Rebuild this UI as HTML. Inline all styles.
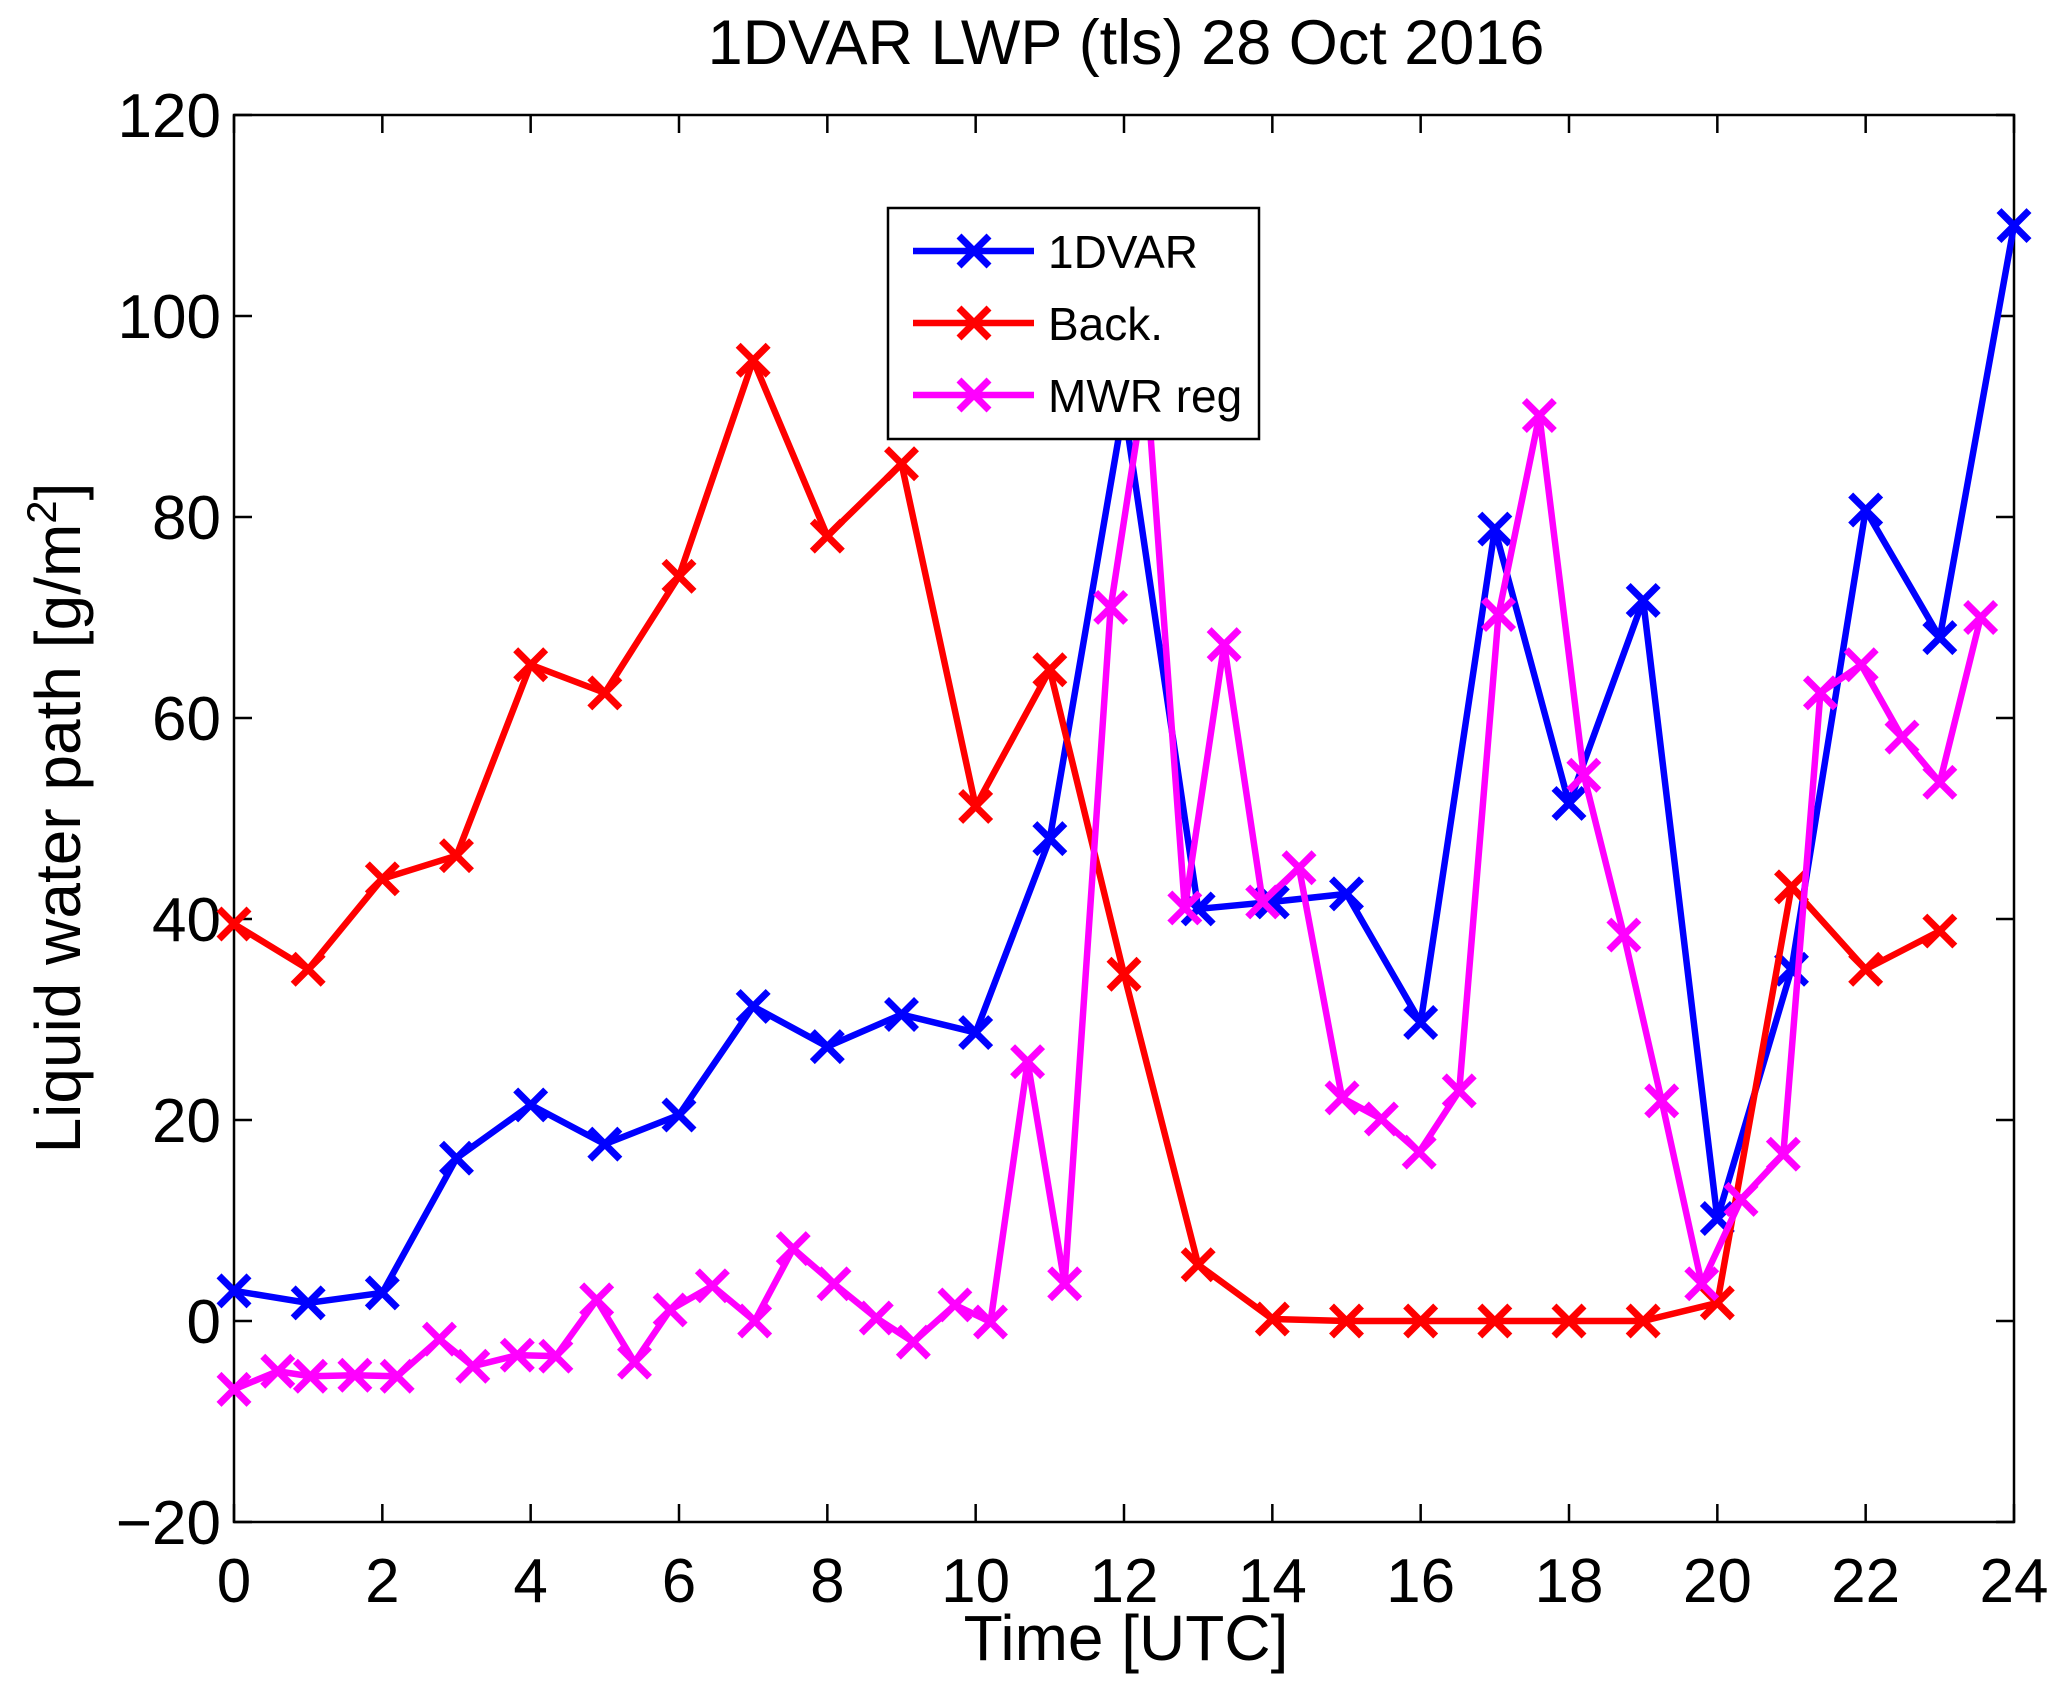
<!DOCTYPE html>
<html><head><meta charset="utf-8"><style>
html,body{margin:0;padding:0;background:#fff;}
svg{display:block;font-family:"Liberation Sans",sans-serif;}
</style></head><body>
<svg id="chart" width="2067" height="1686" viewBox="0 0 2067 1686" xmlns="http://www.w3.org/2000/svg">
<rect width="2067" height="1686" fill="#fff"/>
<text x="1126" y="64" font-size="63" text-anchor="middle">1DVAR LWP (tls) 28  Oct  2016</text>
<g id="plot"></g>
<text x="1126" y="1660" font-size="64" text-anchor="middle">Time [UTC]</text>
<text transform="translate(80,818) rotate(-90)" font-size="64" text-anchor="middle">Liquid water path [g/m<tspan font-size="42" dy="-24">2</tspan><tspan dy="24">]</tspan></text>
</svg>
<script>
const xTicks = [0,2,4,6,8,10,12,14,16,18,20,22,24];
const yTicks = [-20,0,20,40,60,80,100,120];
const hoursVar = [0,1,2,3,4,5,6,7,8,9,10,11,12,13,14,15,16,17,18,19,20,21,22,23,24];
const lwpVar = [3,1.8,2.8,16.2,21.5,17.6,20.5,31.3,27.3,30.5,28.7,48,91,41,41.7,42.5,29.7,78.8,51.5,71.7,10.2,35,80.7,68,109];
const hoursBack = [0,1,2,3,4,5,6,7,8,9,10,11,12,13,14,15,16,17,18,19,20,21,22,23];
const lwpBack = [39.5,35,44,46.3,65.3,62.5,74.1,95.6,78.1,85.3,51.2,64.8,34.5,5.6,0.2,0,0,0,0,0,1.8,43.2,35,38.8];
const hoursMwr = [0,0.59,1.03,1.63,2.2,2.77,3.22,3.82,4.34,4.89,5.4,5.88,6.45,7.02,7.54,8.09,8.66,9.16,9.72,10.2,10.7,11.2,11.82,12.3,12.82,13.35,13.87,14.36,14.94,15.47,15.98,16.52,17.05,17.6,18.2,18.74,19.25,19.79,20.32,20.89,21.39,21.94,22.49,23.0,23.55];
const lwpMwr = [-6.8,-5,-5.5,-5.4,-5.5,-1.8,-4.5,-3.4,-3.5,2.1,-4.1,1.1,3.5,0,7.2,3.7,0.3,-2.1,1.6,-0.1,25.8,3.7,71,94,41.1,67.3,41.7,45.1,22.2,20.1,16.8,22.9,70.3,90.1,54.3,38.4,21.9,3.7,12.1,16.6,62.5,65.3,58.1,53.6,70];

const L=234,R=2014,T=115,B=1522;
const xs=h=>L+(h-0)/24*(R-L);
const ys=v=>B-(v+20)/140*(B-T);
const NS='http://www.w3.org/2000/svg';
const plot=document.getElementById('plot');
function mk(tag,attrs,parent){const e=document.createElementNS(NS,tag);for(const k in attrs)e.setAttribute(k,attrs[k]);(parent||plot).appendChild(e);return e;}

xTicks.forEach(t=>{
  const x=xs(t);
  const g=mk('g',{});
  
  
  mk('line',{x1:x,y1:B,x2:x,y2:B-18,stroke:'#000','stroke-width':2.5},g);
  mk('line',{x1:x,y1:T,x2:x,y2:T+18,stroke:'#000','stroke-width':2.5},g);
  const tx=mk('text',{x:x,y:B+80,'font-size':62,'text-anchor':'middle'},g);
  tx.textContent=t;
});
yTicks.forEach(t=>{
  const y=ys(t);
  const g=mk('g',{});
  
  
  mk('line',{x1:L,y1:y,x2:L+18,y2:y,stroke:'#000','stroke-width':2.5},g);
  mk('line',{x1:R,y1:y,x2:R-18,y2:y,stroke:'#000','stroke-width':2.5},g);
  const tx=mk('text',{x:L-13,y:y+22,'font-size':62,'text-anchor':'end'},g);
  tx.textContent=(t<0?'\u2212'+(-t):t);
});
const frame=mk('rect',{x:L,y:T,width:R-L,height:B-T,fill:'none',stroke:'#000','stroke-width':2.5});



function marker(g,x,y,c){
  const s=15;
  mk('path',{d:`M${x-s},${y-s}L${x+s},${y+s}M${x-s},${y+s}L${x+s},${y-s}`,stroke:c,'stroke-width':7,fill:'none'},g);
}
function series(hs,vs,color,name){
  const g=mk('g',{});
  
  
  const pts=hs.map((h,i)=>xs(h)+','+ys(vs[i])).join(' ');
  mk('polyline',{points:pts,fill:'none',stroke:color,'stroke-width':6.5,'stroke-linejoin':'round'},g);
  hs.forEach((h,i)=>marker(g,xs(h),ys(vs[i]),color));
}
series(hoursVar,lwpVar,'#0000ff','series-1dvar');
series(hoursBack,lwpBack,'#ff0000','series-back');
series(hoursMwr,lwpMwr,'#ff00ff','series-mwr-reg');

const lg=mk('g',{});


mk('rect',{x:888,y:208,width:371,height:231,fill:'#fff',stroke:'#000','stroke-width':2.5},lg);
[['1DVAR','#0000ff',251],['Back.','#ff0000',323],['MWR reg','#ff00ff',395]].forEach(([lab,c,y])=>{
  const e=mk('g',{},lg);
  
  
  mk('line',{x1:913,y1:y,x2:1034,y2:y,stroke:c,'stroke-width':6.5},e);
  marker(e,974,y,c);
  const t=mk('text',{x:1048,y:y+17,'font-size':46},e);
  t.textContent=lab;
});
</script>
</body></html>
